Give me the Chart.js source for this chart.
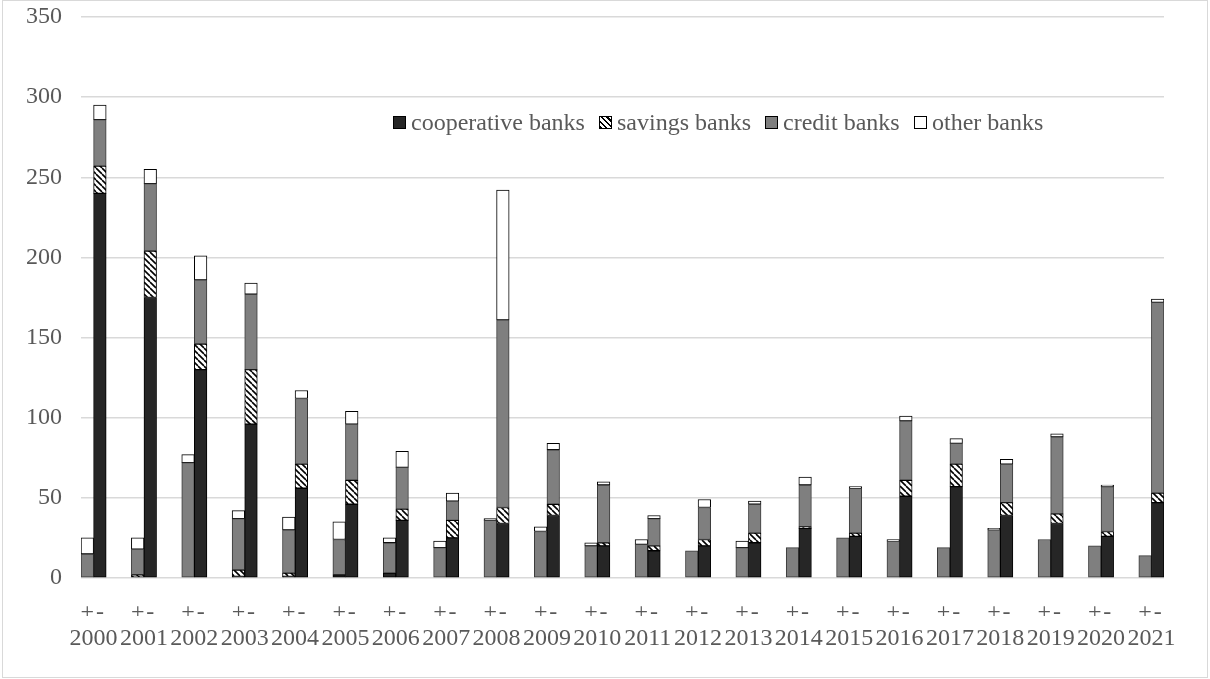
<!DOCTYPE html>
<html>
<head>
<meta charset="utf-8">
<script src="https://cdn.jsdelivr.net/npm/chart.js@4.4.0/dist/chart.umd.min.js"></script>
<style>
  body { margin: 0; background: #fff; }
  #wrap { position: relative; width: 1210px; height: 679px; }
  #frame { position: absolute; left: 2px; top: 0; width: 1204px; height: 676px; border: 1px solid #d9d9d9; pointer-events: none; }
  .lg { position: absolute; top: 107px; font: 24px "Liberation Serif", "Times New Roman", serif; color: #595959; white-space: nowrap; line-height: 30px; }
  .lg i { display: inline-block; width: 11px; height: 11px; border: 1px solid #000; margin-right: 5px; vertical-align: 1px; }
</style>
</head>
<body>
<div id="wrap">
  <canvas id="chart" width="1210" height="679"></canvas>
  <div id="frame"></div>
  <div class="lg" style="left:393px"><i style="background:#262626"></i>cooperative banks</div>
  <div class="lg" style="left:599px"><i style="background:repeating-linear-gradient(45deg,#000 0 1.5px,#fff 1.5px 4px)"></i>savings banks</div>
  <div class="lg" style="left:765px"><i style="background:#7f7f7f"></i>credit banks</div>
  <div class="lg" style="left:914px"><i style="background:#fff"></i>other banks</div>
</div>
<script>
// years, each with a "+" bar and a "-" bar
const years = ['2000','2001','2002','2003','2004','2005','2006','2007','2008','2009','2010',
               '2011','2012','2013','2014','2015','2016','2017','2018','2019','2020','2021'];

const coopPlus    = [0,0,0,1,1,2,3,0,0,0,0,0,0,0,0,0,0,0,0,0,0,0];
const savPlus     = [0,2,0,4,2,0,0,0,0,0,0,0,0,0,0,0,0,0,0,0,0,0];
const creditPlus  = [15,16,72,32,27,22,19,19,36,29,20,21,17,19,19,25,23,19,30,24,20,14];
const otherPlus   = [10,7,5,5,8,11,3,4,1,3,2,3,0,4,0,0,1,0,1,0,0,0];

const coopMinus   = [240,175,130,96,56,46,36,25,34,39,20,17,20,22,31,26,51,57,39,34,26,47];
const savMinus    = [17,29,16,34,15,15,7,11,10,7,2,3,4,6,1,2,10,14,8,6,3,6];
const creditMinus = [29,42,40,47,41,35,26,12,117,34,36,17,20,18,26,28,37,13,24,48,28,119];
const otherMinus  = [9,9,15,7,5,8,10,5,81,4,2,2,5,2,5,1,3,3,3,2,1,2];

const yTicks = [0,50,100,150,200,250,300,350];

// slots: +, -, then two empty slots between years
const labels = [];
years.forEach((y, i) => {
  labels.push('+', '-');
  if (i < years.length - 1) labels.push('', '');
});
function spread(plus, minus) {
  const out = [];
  years.forEach((y, i) => {
    out.push(plus[i], minus[i]);
    if (i < years.length - 1) out.push(null, null);
  });
  return out;
}

// diagonal hatch for savings banks
function hatch() {
  const s = 6;
  const c = document.createElement('canvas');
  c.width = s; c.height = s;
  const g = c.getContext('2d');
  g.fillStyle = '#fff';
  g.fillRect(0, 0, s, s);
  g.strokeStyle = '#000';
  g.lineWidth = 1.6;
  [-s, 0, s].forEach(k => {
    g.beginPath(); g.moveTo(k, 0); g.lineTo(k + s, s); g.stroke();
  });
  return g.createPattern(c, 'repeat');
}

const font = { family: '"Liberation Serif", "Times New Roman", serif', size: 24 };
const ctx = document.getElementById('chart').getContext('2d');

const bankChart = new Chart(ctx, {
  type: 'bar',
  data: {
    labels: labels,
    datasets: [
      { label: 'cooperative banks', data: spread(coopPlus, coopMinus), backgroundColor: '#262626', borderColor: '#000' },
      { label: 'savings banks', data: spread(savPlus, savMinus), backgroundColor: hatch(), borderColor: '#000' },
      { label: 'credit banks', data: spread(creditPlus, creditMinus), backgroundColor: '#7f7f7f', borderColor: '#3a3a3a' },
      { label: 'other banks', data: spread(otherPlus, otherMinus), backgroundColor: '#fff', borderColor: '#000' },
    ],
  },
  options: {
    responsive: false,
    animation: false,
    devicePixelRatio: 1,
    layout: { padding: { left: 0, top: 17, right: 46, bottom: 33 } },
    datasets: { bar: { barPercentage: 1, categoryPercentage: 1, borderWidth: 1, borderSkipped: false } },
    plugins: { legend: { display: false }, tooltip: { enabled: false } },
    scales: {
      x: {
        stacked: true,
        weight: 1,
        grid: { display: false },
        border: { display: false },
        ticks: { autoSkip: false, maxRotation: 0, padding: 12, color: '#595959', font: font },
        afterFit: s => { s.height = 38; },
      },
      x2: {
        type: 'linear',
        position: 'bottom',
        weight: 2,
        offset: false,
        min: -0.5,
        max: labels.length - 0.5,
        grid: { display: false },
        border: { display: false },
        afterBuildTicks: s => { s.ticks = years.map((y, i) => ({ value: 4 * i + 0.5 })); },
        ticks: {
          autoSkip: false, maxRotation: 0, padding: 0, color: '#595959', font: font,
          callback: v => years[Math.round((v - 0.5) / 4)],
        },
        afterFit: s => { s.height = 30; },
      },
      y: {
        stacked: true,
        min: 0,
        max: 350,
        afterBuildTicks: s => { s.ticks = yTicks.map(v => ({ value: v })); },
        grid: { color: '#d9d9d9', lineWidth: 1.5, drawTicks: false },
        border: { display: false },
        ticks: { padding: 19, color: '#595959', font: font },
        afterFit: s => { s.width = 81; s.paddingTop = 0; s.paddingBottom = 0; },
      },
    },
  },
});
</script>
</body>
</html>
